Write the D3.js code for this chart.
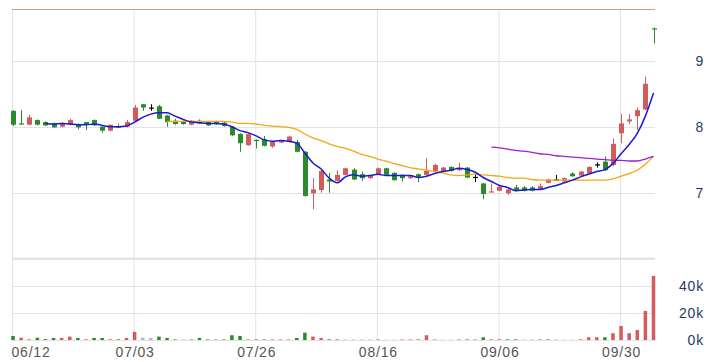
<!DOCTYPE html>
<html>
<head>
<meta charset="utf-8">
<script src="https://cdn.jsdelivr.net/npm/d3@7/dist/d3.min.js"></script>
<style>
  body { margin: 0; background: #fff; }
  svg { display: block; font-family: "Open Sans", "DejaVu Sans", sans-serif; }
  .tick text { font-size: 14px; letter-spacing: 0.8px; }
</style>
</head>
<body>
<div id="chart"></div>
<script>
// trading days shown (2024, Taiwan market)
var dates = ["06/12","06/13","06/14","06/17","06/18","06/19","06/20","06/21","06/24","06/25",
  "06/26","06/27","06/28","07/01","07/02","07/03","07/04","07/05","07/08","07/09",
  "07/10","07/11","07/12","07/15","07/16","07/17","07/18","07/19","07/22","07/23",
  "07/26","07/29","07/30","07/31","08/01","08/02","08/05","08/06","08/07","08/08",
  "08/09","08/12","08/13","08/14","08/15","08/16","08/19","08/20","08/21","08/22",
  "08/23","08/26","08/27","08/28","08/29","08/30","09/02","09/03","09/04","09/05",
  "09/06","09/09","09/10","09/11","09/12","09/13","09/16","09/18","09/19","09/20",
  "09/23","09/24","09/25","09/26","09/27","09/30","10/01","10/04","10/07","10/08"];
var tickDates = ["06/12","07/03","07/26","08/16","09/06","09/30"];

var open = [8.24,8.05,8.03,8.10,8.07,8.05,8.00,8.03,8.04,8.07,
  8.10,8.00,7.94,7.99,8.00,8.09,8.34,8.29,8.31,8.17,
  8.09,8.08,8.03,8.09,8.07,8.08,8.06,8.00,7.89,7.72,
  7.80,7.81,7.70,7.76,7.77,7.77,7.62,6.99,7.04,7.20,
  7.18,7.27,7.35,7.28,7.22,7.28,7.37,7.30,7.27,7.22,
  7.28,7.27,7.33,7.33,7.39,7.34,7.38,7.24,7.14,7.01,
  7.03,6.99,7.08,7.08,7.08,7.06,7.15,7.20,7.17,7.29,
  7.26,7.29,7.43,7.47,7.42,7.90,8.08,8.16,8.26,9.49];
var high = [8.25,8.25,8.18,8.11,8.08,8.06,8.07,8.12,8.05,8.07,
  8.11,8.01,8.03,8.05,8.10,8.33,8.34,8.34,8.33,8.18,
  8.12,8.09,8.10,8.11,8.08,8.09,8.07,8.01,7.90,7.90,
  7.81,7.86,7.78,7.80,7.86,7.80,7.63,7.22,7.35,7.30,
  7.34,7.38,7.37,7.32,7.27,7.38,7.38,7.31,7.28,7.26,
  7.29,7.52,7.44,7.39,7.40,7.45,7.39,7.28,7.15,7.14,
  7.12,7.06,7.12,7.10,7.10,7.14,7.21,7.27,7.23,7.31,
  7.33,7.40,7.46,7.55,7.82,8.19,8.19,8.29,8.76,9.50];
var low = [8.01,8.03,8.02,8.02,8.01,7.98,7.99,8.02,7.96,7.95,
  8.01,7.91,7.93,7.98,7.99,8.08,8.24,8.24,8.12,8.00,
  8.03,8.03,8.02,8.04,8.01,8.03,8.00,7.86,7.62,7.71,
  7.67,7.70,7.68,7.75,7.76,7.61,6.94,6.75,7.00,7.00,
  7.17,7.26,7.19,7.18,7.21,7.27,7.26,7.18,7.17,7.21,
  7.16,7.26,7.32,7.32,7.32,7.33,7.22,7.16,6.90,7.01,
  7.02,6.97,7.02,7.02,7.02,7.05,7.14,7.20,7.16,7.24,
  7.25,7.28,7.38,7.33,7.40,7.75,8.04,7.95,8.25,9.26];
var close = [8.03,8.04,8.14,8.03,8.02,7.99,8.05,8.10,7.99,8.03,
  8.02,7.94,8.03,8.00,8.07,8.29,8.29,8.29,8.12,8.07,
  8.04,8.04,8.09,8.05,8.02,8.04,8.01,7.87,7.75,7.89,
  7.79,7.71,7.77,7.79,7.85,7.62,6.95,7.05,7.33,7.17,
  7.27,7.37,7.20,7.22,7.26,7.37,7.27,7.19,7.22,7.25,
  7.24,7.33,7.42,7.38,7.33,7.37,7.23,7.24,6.98,7.02,
  7.09,7.05,7.03,7.03,7.03,7.10,7.20,7.20,7.22,7.25,
  7.32,7.39,7.43,7.34,7.74,8.05,8.11,8.25,8.65,9.48];
// volume in thousands
var volume = [3.0,1.7,0.5,1.7,0.7,1.5,1.5,2.5,1.5,0.5,
  1.5,1.5,0.5,0.5,1.5,6.0,1.7,1.5,2.5,1.5,
  0.4,0.4,0.4,1.5,0.4,0.4,0.4,3.5,3.0,0.4,
  0.4,0.4,0.4,0.4,0.4,1.5,5.4,2.5,1.5,0.5,
  0.5,0.2,0.2,0.2,0.2,0.4,0.1,0.1,0.4,0.4,
  0.4,3.5,0.4,0.1,0.1,0.4,0.4,0.4,2.0,0.5,
  0.5,0.5,0.5,0.3,0.4,0.4,0.5,0.4,0.1,0.1,
  0.5,2.0,2.0,2.0,5.0,10.4,5.0,7.4,21.5,47.5];

// moving averages, null where not yet available
var ma5 = [null,null,null,null,8.05,8.04,8.05,8.04,8.03,8.03,
  8.04,8.02,8.00,8.00,8.01,8.07,8.14,8.19,8.21,8.21,
  8.16,8.11,8.07,8.06,8.05,8.05,8.04,8.00,7.94,7.91,
  7.86,7.80,7.78,7.79,7.78,7.75,7.60,7.45,7.36,7.22,
  7.15,7.24,7.27,7.25,7.26,7.28,7.26,7.26,7.26,7.26,
  7.23,7.25,7.29,7.32,7.34,7.37,7.35,7.31,7.23,7.17,
  7.11,7.08,7.03,7.04,7.05,7.05,7.08,7.11,7.15,7.19,
  7.24,7.28,7.32,7.35,7.44,7.59,7.73,7.90,8.16,8.51];
var ma20 = [null,null,null,null,null,null,null,null,null,null,
  null,null,null,null,null,null,null,null,null,8.08,
  8.08,8.08,8.08,8.08,8.08,8.08,8.08,8.07,8.05,8.05,
  8.04,8.02,8.01,8.00,7.99,7.96,7.89,7.83,7.79,7.74,
  7.70,7.67,7.63,7.58,7.55,7.51,7.48,7.44,7.41,7.38,
  7.36,7.34,7.32,7.30,7.27,7.26,7.27,7.28,7.27,7.26,
  7.25,7.23,7.22,7.22,7.20,7.19,7.19,7.19,7.19,7.19,
  7.19,7.19,7.19,7.19,7.21,7.25,7.29,7.34,7.43,7.55];
var ma60 = [null,null,null,null,null,null,null,null,null,null,
  null,null,null,null,null,null,null,null,null,null,
  null,null,null,null,null,null,null,null,null,null,
  null,null,null,null,null,null,null,null,null,null,
  null,null,null,null,null,null,null,null,null,null,
  null,null,null,null,null,null,null,null,null,7.69,
  7.68,7.66,7.64,7.63,7.61,7.59,7.58,7.56,7.55,7.54,
  7.53,7.52,7.51,7.50,7.49,7.49,7.48,7.48,7.51,7.55];

var priceTicks = [7, 8, 9];
var volTicks = [0, 20, 40];
var topLine = 9.78;

var width = 712, height = 362;
var plotLeft = 12, plotRight = 655;

var svg = d3.select("#chart").append("svg")
  .attr("width", width)
  .attr("height", height);

svg.append("rect").attr("width", width).attr("height", height).attr("fill", "#fff");

var x = d3.scalePoint()
  .domain(dates)
  .range([13, 653.5]);

var y = d3.scaleLinear()
  .domain([6, topLine])
  .range([258.7, 9.2]);

var yVol = d3.scaleLinear()
  .domain([0, 40])
  .range([340, 286]);

var red = "#d35b5b", green = "#2b8a2b", flat = "#000";

function candleColor(i) {
  if (close[i] > open[i]) return red;
  if (close[i] < open[i]) return green;
  return flat;
}
function volColor(i) {
  if (i == 0) return candleColor(0);
  if (close[i] > close[i-1]) return red;
  if (close[i] < close[i-1]) return green;
  return "#a8bccf";
}

// grid
var grid = svg.append("g");
grid.selectAll(".vgrid")
  .data(tickDates)
  .enter().append("line")
    .attr("x1", function(d) { return x(d) - 0.5 })
    .attr("x2", function(d) { return x(d) - 0.5 })
    .attr("y1", y(topLine))
    .attr("y2", yVol(0))
    .attr("stroke", "#e3e3e3")
    .attr("stroke-width", 1);

grid.selectAll(".pgrid")
  .data(priceTicks)
  .enter().append("line")
    .attr("x1", plotLeft).attr("x2", plotRight)
    .attr("y1", function(d) { return Math.round(y(d)) + 0.5 })
    .attr("y2", function(d) { return Math.round(y(d)) + 0.5 })
    .attr("stroke", "#e3e3e3");

grid.selectAll(".vlgrid")
  .data(volTicks)
  .enter().append("line")
    .attr("x1", plotLeft).attr("x2", plotRight)
    .attr("y1", function(d) { return Math.round(yVol(d)) + 0.5 })
    .attr("y2", function(d) { return Math.round(yVol(d)) + 0.5 })
    .attr("stroke", "#e3e3e3");

// panel separator
grid.append("line")
  .attr("x1", plotLeft).attr("x2", plotRight)
  .attr("y1", y(6)).attr("y2", y(6))
  .attr("stroke", "#e0e0e0")
  .attr("stroke-width", 2);

// top line
grid.append("line")
  .attr("x1", plotLeft).attr("x2", plotRight)
  .attr("y1", Math.round(y(topLine)) + 0.5).attr("y2", Math.round(y(topLine)) + 0.5)
  .attr("stroke", "#c3a57e")
  .attr("stroke-width", 1.2);

// volume bars
svg.append("g").selectAll("rect")
  .data(dates)
  .enter().append("rect")
    .attr("x", function(d) { return x(d) - 1.75 })
    .attr("width", 3.5)
    .attr("y", function(d, i) { return yVol(volume[i]) })
    .attr("height", function(d, i) { return yVol(0) - yVol(volume[i]) })
    .attr("fill", function(d, i) { return volColor(i) });

// candles
var candles = svg.append("g").selectAll("g")
  .data(dates)
  .enter().append("g");

candles.append("line")
  .attr("x1", function(d) { return Math.round(x(d)) + 0.5 })
  .attr("x2", function(d) { return Math.round(x(d)) + 0.5 })
  .attr("y1", function(d, i) { return y(high[i]) })
  .attr("y2", function(d, i) { return y(low[i]) })
  .attr("stroke", function(d, i) { return candleColor(i) })
  .attr("stroke-width", 1);

candles.append("rect")
  .attr("x", function(d) { return Math.round(x(d)) - 2 })
  .attr("width", 5)
  .attr("y", function(d, i) { return y(Math.max(open[i], close[i])) })
  .attr("height", function(d, i) { return Math.max(1.2, Math.abs(y(open[i]) - y(close[i]))) })
  .attr("fill", function(d, i) { return candleColor(i) });

// moving average lines
function maLine(arr) {
  return d3.line()
    .defined(function(d, i) { return arr[i] != null })
    .x(function(d) { return x(d) })
    .y(function(d, i) { return y(arr[i]) })
    .curve(d3.curveMonotoneX)(dates);
}
svg.append("path").attr("d", maLine(ma20)).attr("fill", "none").attr("stroke", "#f5a614").attr("stroke-width", 1.3);
svg.append("path").attr("d", maLine(ma60)).attr("fill", "none").attr("stroke", "#9b22cc").attr("stroke-width", 1.3);
svg.append("path").attr("d", maLine(ma5)).attr("fill", "none").attr("stroke", "#1a1ad0").attr("stroke-width", 1.5);

// axes
var xAxis = svg.append("g")
  .attr("transform", "translate(0," + yVol(0) + ")")
  .call(d3.axisBottom(x).tickValues(tickDates).tickSize(0).tickPadding(7));
xAxis.select(".domain").remove();
xAxis.selectAll("text").attr("fill", "#555");
xAxis.selectAll("text").filter(function(d, i) { return i == 0 })
  .attr("text-anchor", "start")
  .attr("x", -2);

var yAxis = svg.append("g")
  .attr("transform", "translate(704,0)")
  .call(d3.axisRight(y).tickValues(priceTicks).tickSize(0).tickFormat(d3.format("d")));
yAxis.select(".domain").remove();
yAxis.selectAll("text").attr("x", 0).attr("text-anchor", "end").attr("fill", "#1f3b66");

var vAxis = svg.append("g")
  .attr("transform", "translate(704,0)")
  .call(d3.axisRight(yVol).tickValues(volTicks).tickSize(0).tickFormat(function(d) { return d + "k" }));
vAxis.select(".domain").remove();
vAxis.selectAll("text").attr("x", 0).attr("text-anchor", "end").attr("fill", "#1f3b66");
</script>
</body>
</html>
